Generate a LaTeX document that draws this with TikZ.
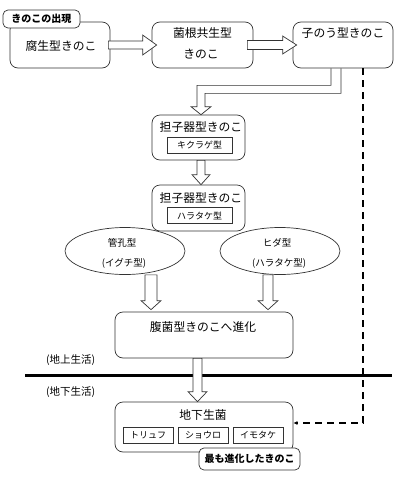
\documentclass[tikz,border=0pt]{standalone}
\usepackage{fontspec}
\newfontfamily\jp{Noto Sans CJK JP}
\usetikzlibrary{arrows.meta,calc,shapes.geometric,backgrounds}
\newcommand\downblk[7]{% from, to, x offset from start x, shaft half, head half, head length, tip offset
  \draw[blk] let \p1=(#1), \p2=(#2) in
    (\x1+#3-#4,\y1) -- (\x1+#3-#4,\y2+#6-#7) -- (\x1+#3-#5,\y2+#6-#7) -- (\x1+#3,\y2-#7)
    -- (\x1+#3+#5,\y2+#6-#7) -- (\x1+#3+#4,\y2+#6-#7) -- (\x1+#3+#4,\y1) -- cycle;}
\begin{document}
\begin{tikzpicture}[x=1pt,y=-1pt,
  box/.style={draw=black!80, line width=0.7pt, rounded corners=8pt, fill=white, inner sep=0pt},
  tag/.style={draw=black!80, line width=0.7pt, rounded corners=5pt, fill=white, inner sep=0pt,
    font=\jp\bfseries\fontsize{10}{12}\selectfont},
  sub/.style={draw=black!80, line width=0.6pt, fill=white, inner sep=0pt,
    font=\jp\fontsize{9}{11}\selectfont},
  txt/.style={inner sep=0pt, font=\jp\fontsize{11.8}{14}\selectfont},
  small/.style={inner sep=0pt, font=\jp\fontsize{9.5}{11}\selectfont},
  side/.style={inner sep=0pt, anchor=west, font=\jp\fontsize{10.5}{12}\selectfont},
  oval/.style={draw=black!80, line width=0.7pt, ellipse, fill=white, inner sep=0pt},
  blk/.style={draw=black!80, line width=0.7pt, fill=white, line join=miter},
  dsh/.style={draw=black, line width=1.3pt, dash pattern=on 7pt off 5pt, -{Latex[length=4pt,width=4pt]}},
]
\useasboundingbox (0,0) rectangle (400,480);

% top row
\node[box, minimum width=100pt, minimum height=46pt] (b1) at (60,45) {};
\node[txt] (t1) at (61,46) {腐生型きのこ};
\node[tag, minimum width=77pt, minimum height=18pt] (tag1) at (41.5,19) {きのこの出現};

\node[box, minimum width=101pt, minimum height=46pt] (b2) at (202.5,45) {};
\node[txt] (t2a) at (202.5,33) {菌根共生型};
\node[txt] (t2b) at (201,54) {きのこ};

\node[box, minimum width=100pt, minimum height=46pt] (b3) at (343,45) {};
\node[txt] (t3) at (343,33) {子のう型きのこ};

% horizontal block arrows
\draw[blk] let \p1=(b1.east), \p2=(b2.west) in
  (\x1-2pt,\y1+4pt) -- (\x2-9pt,\y1+4pt) -- (\x2-9pt,\y1+10pt) -- (\x2+5pt,\y1)
  -- (\x2-9pt,\y1-10pt) -- (\x2-9pt,\y1-4pt) -- (\x1-2pt,\y1-4pt) -- cycle;
\draw[blk] let \p1=(b2.east), \p2=(b3.west) in
  (\x1-6pt,\y1+4.5pt) -- (\x2-10pt,\y1+4.5pt) -- (\x2-10pt,\y1+9pt) -- (\x2+4pt,\y1)
  -- (\x2-10pt,\y1-9pt) -- (\x2-10pt,\y1-4.5pt) -- (\x1-6pt,\y1-4.5pt) -- cycle;

% basidiomycete boxes
\node[box, minimum width=93pt, minimum height=45pt] (b4) at (198.5,137.5) {};
\node[txt] (t4) at (201,127) {担子器型きのこ};
\node[sub, minimum width=65pt, minimum height=16pt] (s4) at (199.5,145) {キクラゲ型};

\node[box, minimum width=93pt, minimum height=46pt] (b5) at (198.5,208) {};
\node[txt] (t5) at (201,198) {担子器型きのこ};
\node[sub, minimum width=65pt, minimum height=16pt] (s5) at (199.5,215.5) {ハラタケ型};

% bent arrow from b3 to b4
\draw[blk, fill=none] let \p1=(b3.south), \p2=(b4.north) in
  (\x1-2pt,\y1) -- (\x1-2pt,\y1-25pt) -- (\x2+6.5pt,\y1-25pt) -- (\x2+6.5pt,\y2+8pt)
  -- (\x2+12.5pt,\y2+8pt) -- (\x2+2.5pt,\y2) -- (\x2-7.5pt,\y2+8pt) -- (\x2-1.5pt,\y2+8pt)
  -- (\x2-1.5pt,\y1-17pt) -- (\x1-12pt,\y1-17pt) -- (\x1-12pt,\y1);

% b4 -> b5
\downblk{b4.south}{b5.north}{2.5pt}{4pt}{9pt}{10pt}{0pt}

% ellipses
\node[oval, minimum width=120pt, minimum height=47pt] (eL) at (125,251) {};
\node[small] (eL1) at (122,243) {管孔型};
\node[small] (eL2) at (124,263) {(イグチ型)};
\node[oval, minimum width=120pt, minimum height=47pt] (eR) at (280,251) {};
\node[small] (eR1) at (277,243) {ヒダ型};
\node[small] (eR2) at (279,263) {(ハラタケ型)};

% gasteromycete box
\node[box, minimum width=178pt, minimum height=46pt] (b6) at (204,335) {};
\node[txt] (t6) at (203,327) {腹菌型きのこへ進化};

\begin{pgfonlayer}{background}
\downblk{eL.south}{b6.north}{26pt}{6pt}{10pt}{9pt}{-2pt}
\downblk{eR.south}{b6.north}{-12pt}{5pt}{10pt}{9pt}{-2pt}
\end{pgfonlayer}

% ground line and labels
\node[side] (above) at (46,360) {(地上生活)};
\node[side] (below) at (46,392) {(地下生活)};
\draw[line width=3pt] (25,375) -- (392,375);

% underground fungi
\node[box, minimum width=178pt, minimum height=50pt] (b7) at (204,427) {};
\node[txt] (t7) at (203,415) {地下生菌};
\node[sub, minimum width=50pt, minimum height=16pt] (s71) at (148,435) {トリュフ};
\node[sub, minimum width=50pt, minimum height=16pt] (s72) at (203,435) {ショウロ};
\node[sub, minimum width=50pt, minimum height=16pt] (s73) at (258,435) {イモタケ};
\node[tag, minimum width=101pt, minimum height=22pt] (tag2) at (249.5,459) {最も進化したきのこ};

% b6 -> b7
\downblk{b6.south}{b7.north}{-6.5pt}{4.5pt}{9.5pt}{10pt}{0pt}

% dashed link
\draw[dsh] ($(b3.south)+(20,0)$) |- ($(b7.east)+(0,-4)$);
\end{tikzpicture}
\end{document}
